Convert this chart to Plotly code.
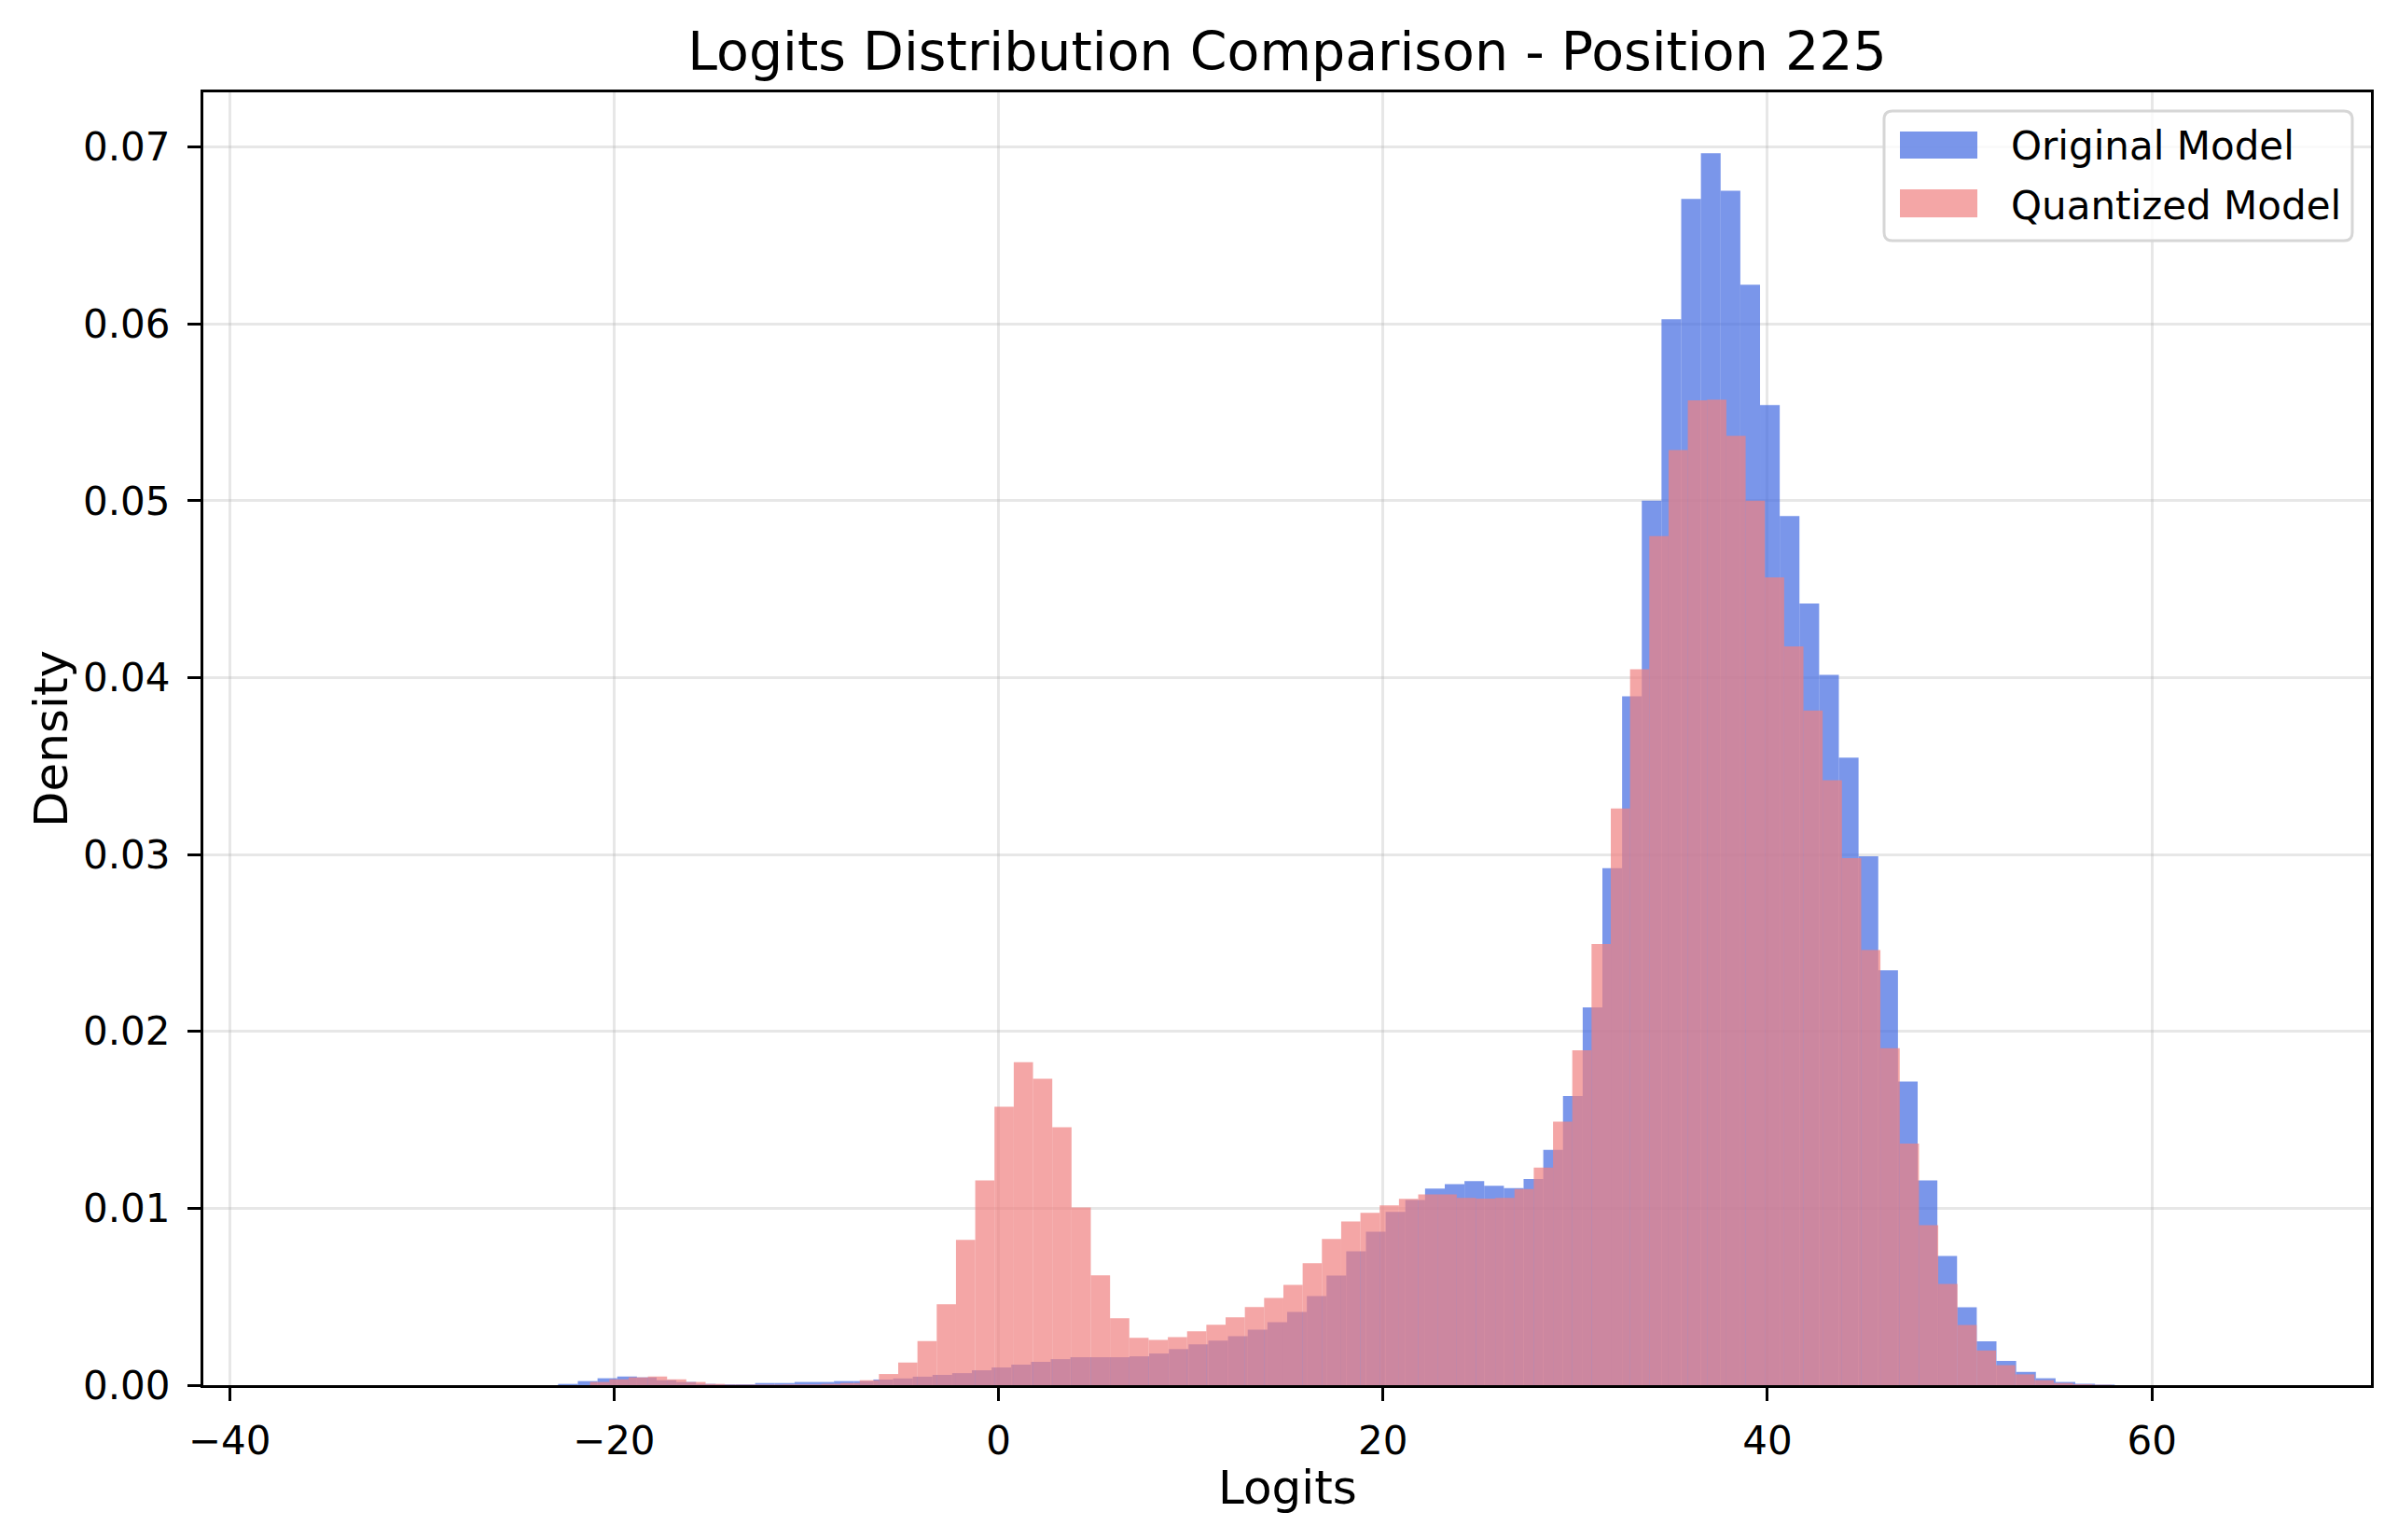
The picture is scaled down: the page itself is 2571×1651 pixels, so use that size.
import numpy as np
import plotly.graph_objects as go

# histogram bins (density=True, 100 bins each)
orig_bin_start = -36.23
orig_bin_width = 1.0249
orig_density = [
    0, 0, 0, 0, 0, 0, 0, 0, 0, 0,
    0, 0, 0, 0.00007, 0.00023, 0.00039, 0.00049, 0.00044, 0.00028, 0.00018,
    0.00007, 0.00005, 0.00005, 0.00012, 0.00012, 0.00018, 0.00018, 0.00023, 0.00023, 0.00032,
    0.00038, 0.00048, 0.00058, 0.00068, 0.00084, 0.00100, 0.00116, 0.00132, 0.00147, 0.00158,
    0.00158, 0.00158, 0.00163, 0.00179, 0.00204, 0.00231, 0.00252, 0.00277, 0.00314, 0.00356,
    0.00414, 0.00504, 0.00620, 0.00757, 0.00868, 0.00979, 0.01047, 0.01111, 0.01137, 0.01153,
    0.01127, 0.01114, 0.01166, 0.01330, 0.01635, 0.02136, 0.02923, 0.03895, 0.05000, 0.06026,
    0.06706, 0.06965, 0.06753, 0.06221, 0.05541, 0.04913, 0.04419, 0.04016, 0.03548, 0.02990,
    0.02345, 0.01716, 0.01158, 0.00730, 0.00440, 0.00248, 0.00137, 0.00075, 0.00039, 0.00018,
    0.00008, 0.00003, 0, 0, 0, 0, 0, 0, 0, 0,
]

quant_bin_start = -35.27
quant_bin_width = 1.0018
quant_density = [
    0, 0, 0, 0, 0, 0, 0, 0, 0, 0,
    0, 0, 0, 0, 0.00018, 0.00033, 0.00044, 0.00049, 0.00033, 0.00018,
    0.00007, 0.00003, 0.00003, 0.00003, 0.00004, 0.00004, 0.00007, 0.00012, 0.00028, 0.00063,
    0.00128, 0.00249, 0.00458, 0.00821, 0.01158, 0.01574, 0.01826, 0.01732, 0.01458, 0.01005,
    0.00621, 0.00379, 0.00268, 0.00256, 0.00272, 0.00304, 0.00341, 0.00383, 0.00441, 0.00493,
    0.00567, 0.00689, 0.00826, 0.00926, 0.00974, 0.01016, 0.01053, 0.01079, 0.01079, 0.01058,
    0.01055, 0.01058, 0.01109, 0.01230, 0.01490, 0.01893, 0.02495, 0.03260, 0.04047, 0.04800,
    0.05287, 0.05567, 0.05572, 0.05367, 0.05000, 0.04567, 0.04176, 0.03814, 0.03420, 0.02980,
    0.02460, 0.01905, 0.01366, 0.00905, 0.00572, 0.00340, 0.00196, 0.00113, 0.00061, 0.00028,
    0.00012, 0.00005, 0.00002, 0, 0, 0, 0, 0, 0, 0,
]

series_names = ["Original Model", "Quantized Model"]
x_ticks = [-40, -20, 0, 20, 40, 60]
x_tick_labels = ["\u221240", "\u221220", "0", "20", "40", "60"]
y_ticks = [0.0, 0.01, 0.02, 0.03, 0.04, 0.05, 0.06, 0.07]
y_tick_labels = ["0.00", "0.01", "0.02", "0.03", "0.04", "0.05", "0.06", "0.07"]

FONT = "DejaVu Sans"
BLUE = "rgba(65,105,225,0.7)"
PINK = "rgba(240,128,128,0.7)"

# page is 2571x1651; the html body has an 8px margin, so shrink the figure to fit
OFF = 8
W, H = 2571 - 2 * OFF, 1651 - 2 * OFF
# plot area in page pixels: x 218..2542, y 99..1485
X0, X1, Y0, Y1 = 218, 2542, 99, 1485
L, R, T, B = X0 - OFF, W + OFF - X1, Y0 - OFF, H + OFF - Y1
PW, PH = X1 - X0, Y1 - Y0


def px(x):
    return (x - X0) / PW


def py(y):
    return (Y1 - y) / PH


def centers(start, width, n):
    return start + width * (np.arange(n) + 0.5)


fig = go.Figure()
fig.add_trace(go.Bar(
    x=centers(orig_bin_start, orig_bin_width, len(orig_density)),
    y=orig_density, width=orig_bin_width,
    marker=dict(color=BLUE, line=dict(width=0)), name=series_names[0],
))
fig.add_trace(go.Bar(
    x=centers(quant_bin_start, quant_bin_width, len(quant_density)),
    y=quant_density, width=quant_bin_width,
    marker=dict(color=PINK, line=dict(width=0)), name=series_names[1],
))

axis_style = dict(
    showline=True, linecolor="black", linewidth=3.3, mirror=True,
    ticks="outside", ticklen=14, tickwidth=3.3, tickcolor="black",
    showgrid=True, gridcolor="rgba(176,176,176,0.3)", gridwidth=3,
    zeroline=False, layer="above traces",
    tickfont=dict(family=FONT, size=42, color="black"),
)

fig.update_layout(
    width=W, height=H,
    margin=dict(l=L, r=R, t=T, b=B, autoexpand=False),
    barmode="overlay", showlegend=False,
    plot_bgcolor="white", paper_bgcolor="white",
    font=dict(family=FONT, color="black"),
    title=dict(text="Logits Distribution Comparison - Position 225",
               x=0.5, xref="paper", xanchor="center",
               y=1 - (55 - OFF) / H, yref="container", yanchor="middle",
               font=dict(family=FONT, size=57, color="black")),
    xaxis=dict(range=[-41.36, 71.39], tickvals=x_ticks, ticktext=x_tick_labels,
               ticklabelstandoff=6, **axis_style),
    yaxis=dict(range=[0, 0.07309], tickvals=y_ticks, ticktext=y_tick_labels,
               ticklabelstandoff=10, **axis_style),
)

# axis titles
fig.add_annotation(text="Logits", xref="paper", yref="paper", x=0.5, y=py(1595),
                   showarrow=False, xanchor="center", yanchor="middle",
                   font=dict(family=FONT, size=50, color="black"))
fig.add_annotation(text="Density", xref="paper", yref="paper", x=px(55), y=0.5,
                   showarrow=False, xanchor="center", yanchor="middle", textangle=-90,
                   font=dict(family=FONT, size=50, color="black"))


# legend box, drawn like matplotlib's (rounded frame, wide patches)
def rounded_rect(x0, y0, x1, y1, r):
    rx, ry = r / PW, r / PH
    a, b, c, d = px(x0), py(y1), px(x1), py(y0)
    return (f"M {a + rx},{b} L {c - rx},{b} Q {c},{b} {c},{b + ry} "
            f"L {c},{d - ry} Q {c},{d} {c - rx},{d} L {a + rx},{d} "
            f"Q {a},{d} {a},{d - ry} L {a},{b + ry} Q {a},{b} {a + rx},{b} Z")


fig.add_shape(type="path", xref="paper", yref="paper",
              path=rounded_rect(2020, 119, 2522, 258, 9),
              fillcolor="rgba(255,255,255,0.8)", line=dict(color="#d6d6d6", width=3))
for name, color, top, bottom, text_y in [
    (series_names[0], BLUE, 141, 170, 157),
    (series_names[1], PINK, 203, 233, 220),
]:
    fig.add_shape(type="rect", xref="paper", yref="paper",
                  x0=px(2037), x1=px(2120), y0=py(bottom), y1=py(top),
                  fillcolor=color, line=dict(width=0))
    fig.add_annotation(text=name, xref="paper", yref="paper", x=px(2154), y=py(text_y),
                       showarrow=False, xanchor="left", yanchor="middle",
                       font=dict(family=FONT, size=42, color="black"))

fig.write_html("out.html")
